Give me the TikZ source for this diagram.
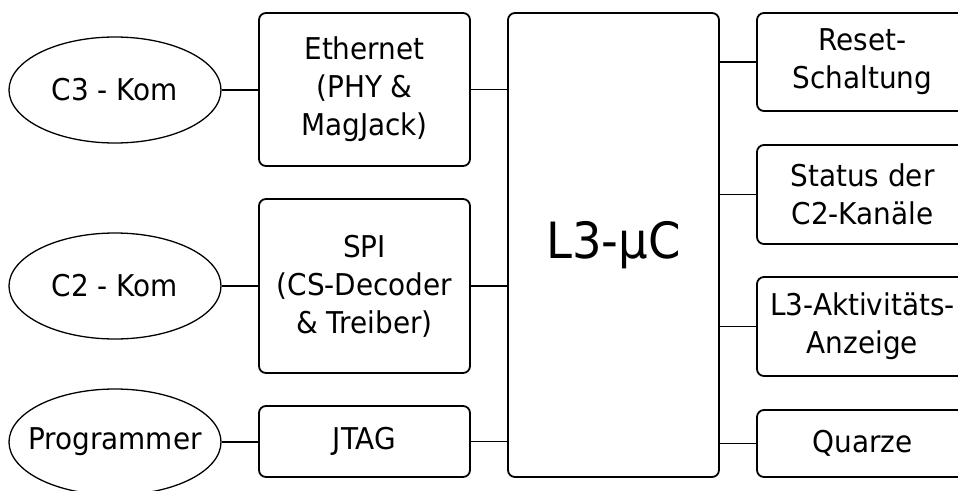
\documentclass[tikz,border=0pt]{standalone}
\usepackage{fontspec}
\setmainfont[FakeStretch=0.93]{DejaVu Sans}
\usetikzlibrary{shapes.geometric}
\begin{document}
\begin{tikzpicture}[x=1pt,y=-1pt,
  blk/.style={draw,line width=1.8pt,rounded corners=7pt,align=center,
    font=\fontsize{30}{38}\selectfont,inner sep=0pt,minimum width=211pt},
  ell/.style={draw,ellipse,line width=1.3pt,inner sep=0pt,
    minimum width=212pt,minimum height=106pt,font=\fontsize{30}{38}\selectfont},
  con/.style={line width=1.4pt}]
\clip (0,0) rectangle (958,490);
% ellipses
\node[ell] (c3) at (115,90) {C3 - Kom};
\node[ell] (c2) at (115,286) {C2 - Kom};
\node[ell,inner xsep=-14pt] (prog) at (115,442) {Programmer};
% left blocks
\node[blk,minimum height=153pt] (eth) at (364.5,89.5) {Ethernet\\(PHY \&\\MagJack)};
\node[blk,minimum height=174pt] (spi) at (364.5,286) {SPI\\(CS-Decoder\\\& Treiber)};
\node[blk,minimum height=71pt] (jtag) at (364.5,441.5) {JTAG};
% central
\node[blk,minimum height=464pt,font=\fontsize{50}{60}\selectfont] (mc) at (613.5,245) {L3-µC};
% right blocks
\node[blk,minimum height=98pt] (rst) at (862.5,62) {Reset-\\Schaltung};
\node[blk,minimum height=99pt] (stat) at (862.5,194.5) {Status der\\C2-Kanäle};
\node[blk,minimum height=99pt] (akt) at (862.5,326.5) {L3-Aktivitäts-\\Anzeige};
\node[blk,minimum height=67pt] (qz) at (862.5,443.5) {Quarze};
% connectors
\draw[con] (c3.east) -- (c3.east -| eth.west);
\draw[con] (c2.east) -- (c2.east -| spi.west);
\draw[con] (prog.east) -- (prog.east -| jtag.west);
\draw[con] (eth.east) -- (eth.east -| mc.west);
\draw[con] (spi.east) -- (spi.east -| mc.west);
\draw[con] (jtag.east) -- (jtag.east -| mc.west);
\draw[con] (mc.east |- rst.west) -- (rst.west);
\draw[con] (mc.east |- stat.west) -- (stat.west);
\draw[con] (mc.east |- akt.west) -- (akt.west);
\draw[con] (mc.east |- qz.west) -- (qz.west);
\end{tikzpicture}
\end{document}
